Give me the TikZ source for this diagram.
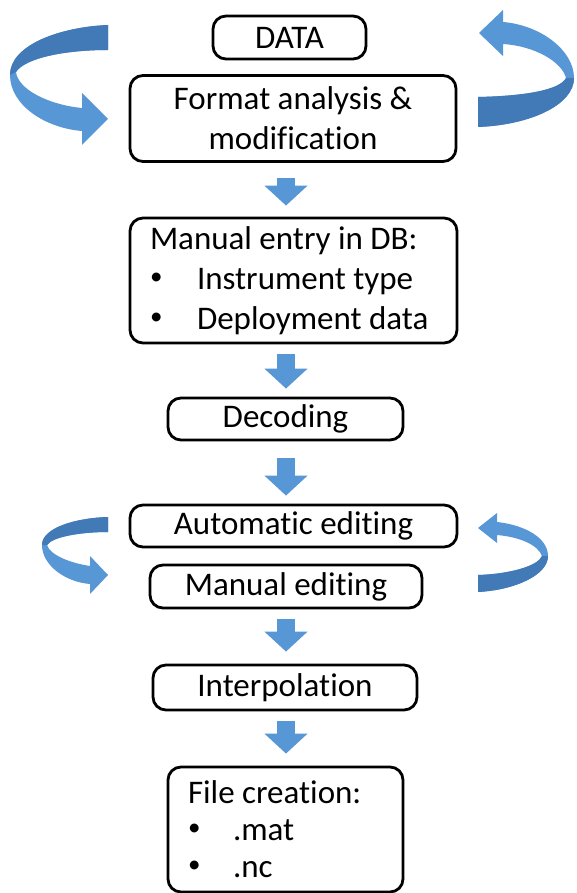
\documentclass[tikz,border=0pt]{standalone}
\usepackage{fontspec}
\setmainfont{Carlito}[RawFeature=-liga]
\usetikzlibrary{arrows.meta,calc}

\definecolor{flowblue}{RGB}{88,151,213}
\definecolor{flowdark}{RGB}{66,121,183}

% small bullet for the list boxes
\newcommand{\listdot}[1]{\makebox[#1][l]{\raisebox{5pt}{\fontsize{25}{25}\selectfont •}}}

\begin{document}
\begin{tikzpicture}[
    x=1pt,y=-1pt,
    box/.style={
      draw,
      line width=2.8pt,
      rounded corners=13pt,
      inner sep=0pt,
      font=\fontsize{33}{40}\selectfont
    },
    listbox/.style={
      box,
      align=flush left,
      inner xsep=20pt
    },
    flow/.style={
      draw=flowblue,
      line width=18pt,
      -{Triangle[width=42pt,length=20pt]}
    }
    ]
    \useasboundingbox[fill=white] (0,0) rectangle (576,893);

    \node[box,minimum width=153pt,minimum height=43pt] (data) at (289.5,37.5)
      {DATA};
    \node[box,align=center,minimum width=326pt,minimum height=86pt] (format) at (293,118.5)
      {Format analysis \&\\modification};
    \node[listbox,text width=287pt,minimum height=125pt] (entry) at (293.5,280.5)
      {Manual entry in DB:\\
       \listdot{47pt}Instrument type\\
       \listdot{47pt}Deployment data};
    \node[box,minimum width=235pt,minimum height=42pt] (decode) at (285.5,419)
      {Decoding};
    \node[box,minimum width=327pt,minimum height=42pt] (auto) at (293.5,526)
      {Automatic editing};
    \node[box,minimum width=272pt,minimum height=43pt] (manual) at (286,586.5)
      {Manual editing};
    \node[box,minimum width=264pt,minimum height=45pt] (interp) at (285,687.5)
      {Interpolation};
    \node[listbox,text width=195pt,minimum height=125pt,font=\fontsize{33}{37}\selectfont] (file) at (285.5,829.5)
      {File creation:\\
       \listdot{45pt}.mat\\
       \listdot{45pt}.nc};

    % block arrows down the middle
    \coordinate (spine) at (286,0);
    \draw[flow] ($(format.south -| spine)+(0,15)$) -- ($(entry.north -| spine)+(0,-11)$);
    \draw[flow] ($(entry.south -| spine)+(0,10)$) -- ($(decode.north -| spine)+(0,-8)$);
    \draw[flow] ($(decode.south -| spine)+(0,17)$) -- ($(auto.north -| spine)+(0,-8)$);
    \draw[flow] ($(manual.south -| spine)+(0,10)$) -- ($(interp.north -| spine)+(0,-12)$);
    \draw[flow] ($(interp.south -| spine)+(0,10)$) -- ($(file.north -| spine)+(0,-12)$);

    % loop arrow, top left
    \fill[flowblue] (108,25) .. controls (60,27) and (10,45) .. (10,75)
      .. controls (10,105) and (45,128) .. (82,131)
      -- (82,145) -- (108,119) -- (82,93) -- (82,108)
      .. controls (50,105) and (18,90) .. (16,72)
      .. controls (25,58) and (65,50) .. (108,50) -- cycle;
    \fill[flowdark] (108,25) .. controls (60,27) and (10,45) .. (10,75)
      -- (16,72) .. controls (25,58) and (65,50) .. (108,50) -- cycle;

    % loop arrow, top right
    \fill[flowblue] (503,22) .. controls (540,25) and (574,50) .. (574,78)
      .. controls (574,105) and (530,125) .. (478,127)
      -- (478,97) .. controls (525,96) and (560,90) .. (566,78)
      .. controls (562,62) and (535,46) .. (503,44)
      -- (503,56) -- (479,33) -- (503,10) -- cycle;
    \fill[flowdark] (574,78) .. controls (574,105) and (530,125) .. (478,127)
      -- (478,97) .. controls (525,96) and (560,90) .. (566,78) -- cycle;

    % loop arrow, middle left
    \fill[flowblue] (108,517) .. controls (75,518) and (42,528) .. (42,545)
      .. controls (42,565) and (65,582) .. (90,584)
      -- (90,594) -- (108,575) -- (90,556) -- (90,566)
      .. controls (70,563) and (50,555) .. (47,545)
      .. controls (52,537) and (80,532) .. (108,532) -- cycle;
    \fill[flowdark] (108,517) .. controls (75,518) and (42,528) .. (42,545)
      -- (47,545) .. controls (52,537) and (80,532) .. (108,532) -- cycle;

    % loop arrow, middle right
    \fill[flowblue] (497,522) .. controls (525,525) and (548,538) .. (548,556)
      .. controls (548,575) and (515,590) .. (478,592)
      -- (478,575) .. controls (510,574) and (538,566) .. (542,556)
      .. controls (538,545) and (520,537) .. (497,535)
      -- (497,543) -- (478,528) -- (497,513) -- cycle;
    \fill[flowdark] (548,556) .. controls (548,575) and (515,590) .. (478,592)
      -- (478,575) .. controls (510,574) and (538,566) .. (542,556) -- cycle;
\end{tikzpicture}
\end{document}
